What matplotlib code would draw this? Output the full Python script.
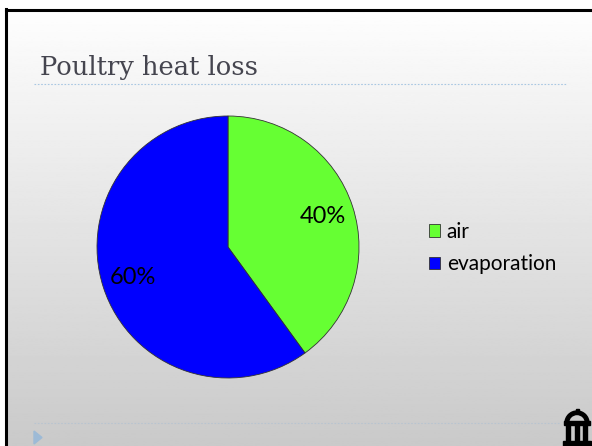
import numpy as np
import matplotlib
matplotlib.use("Agg")
import matplotlib.pyplot as plt
from matplotlib.patches import Polygon, Rectangle, Wedge

title = "Poultry heat loss"
labels = ["air", "evaporation"]
shares = [40, 60]
colors = ["#66ff33", "#0000ff"]

W, H = 592, 446
fig = plt.figure(figsize=(W / 100, H / 100), dpi=100)

# slide background in pixel coordinates
bg = fig.add_axes([0, 0, 1, 1])
bg.set_xlim(0, W)
bg.set_ylim(H, 0)
bg.axis("off")
grad = np.linspace(0.995, 0.79, 256).reshape(-1, 1)
bg.imshow(grad, cmap="gray", vmin=0, vmax=1, aspect="auto",
          extent=[6, W, H, 9], zorder=0)
bg.plot([6, 6], [9, H], color="black", lw=2.2, zorder=2)
bg.plot([6, W], [9.5, 9.5], color="black", lw=2.2, zorder=2)

bg.text(40, 75, title, fontsize=18.5, family="DejaVu Serif",
        color="#45454f", va="baseline", ha="left")
bg.plot([34, 566], [84, 84], color="#a9c7e2", lw=0.8, ls=(0, (1.5, 1.5)))
bg.plot([34, 560], [423, 423], color="#b8c4d0", lw=0.8, ls=(0, (1.5, 1.5)))
bg.add_patch(Polygon([[34, 431], [42, 437.5], [34, 444]], closed=True,
                     color="#9dbad6"))

# arch icon, bottom right
bg.add_patch(Wedge((577, 423), 12, 180, 360, width=3.5, color="black"))
bg.add_patch(Rectangle((564, 421), 26, 3.5, color="black"))
for x0 in (566, 574.5, 583):
    bg.add_patch(Rectangle((x0, 424), 4, 18, color="black"))
bg.add_patch(Rectangle((563, 441), 28, 5, color="black"))
bg.add_patch(Rectangle((575.5, 409), 3, 3, color="black"))

# pie
cx, cy, r = 228, 247, 131
ax = fig.add_axes([(cx - r) / W, (H - cy - r) / H, 2 * r / W, 2 * r / H])
wedges, _, autotexts = ax.pie(
    shares, colors=colors, startangle=90, counterclock=False,
    autopct="%d%%", pctdistance=0.76,
    wedgeprops=dict(edgecolor="#333333", linewidth=0.6),
    textprops=dict(fontsize=17, family="Lato", color="black"))
ax.set_xlim(-1, 1)
ax.set_ylim(-1, 1)
ax.set_aspect("equal")

fig.legend(wedges, labels, loc="center left",
           bbox_to_anchor=(429 / W, 1 - 248 / H),
           frameon=False, prop=dict(family="Lato", size=15),
           handlelength=0.55, handleheight=0.55, handletextpad=0.3,
           labelspacing=0.6, borderpad=0, borderaxespad=0)

fig.savefig("out.png", dpi=100)
